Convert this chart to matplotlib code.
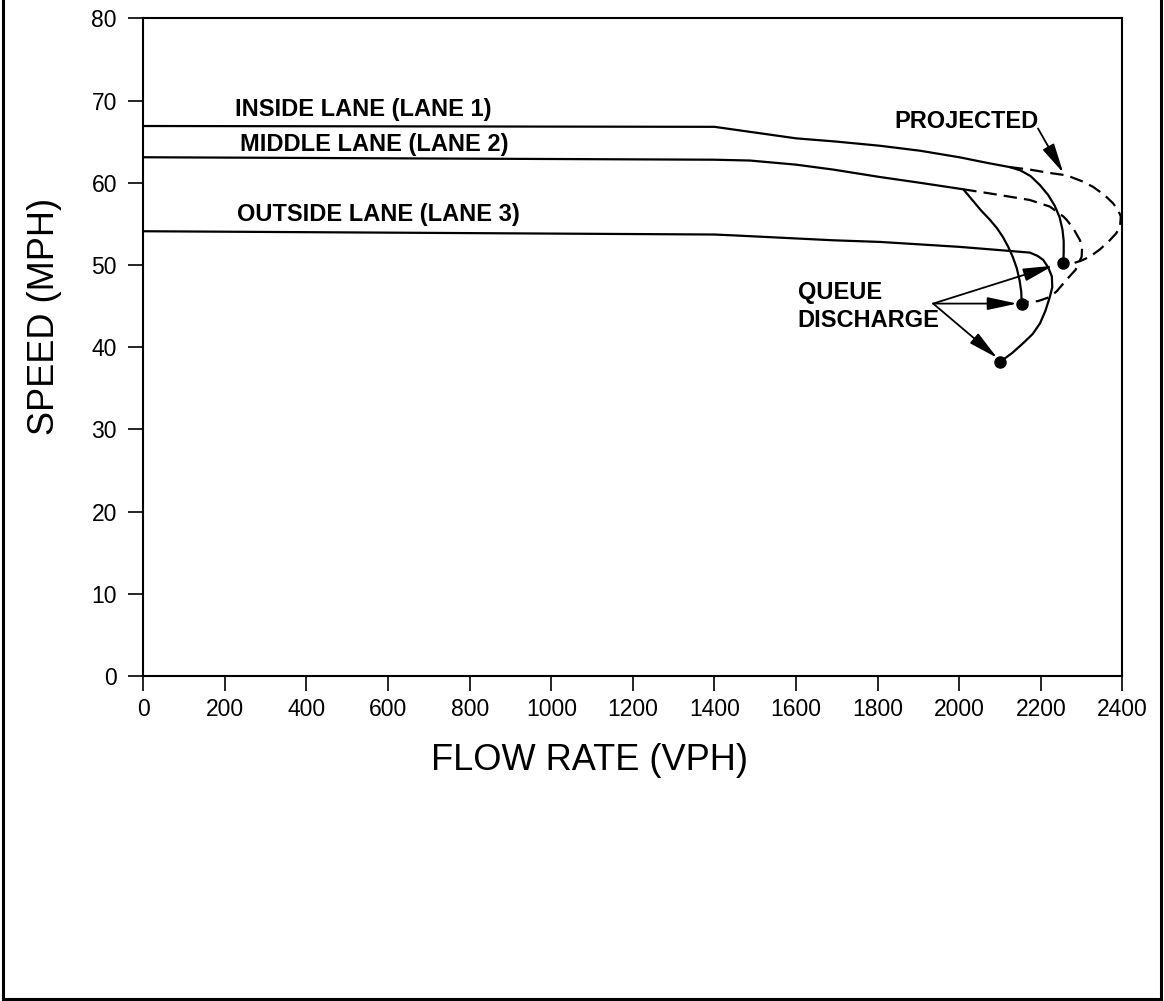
import matplotlib
matplotlib.use("Agg")
import matplotlib.pyplot as plt
from matplotlib.lines import Line2D

plt.rcParams['font.family'] = ['Liberation Sans', 'DejaVu Sans']

# flow rate (vph) / speed (mph)
inside_flow = [0, 1400, 1500, 1600, 1700, 1805, 1903, 2000, 2070, 2124, 2150, 2175, 2198, 2218, 2234, 2246, 2253, 2256, 2256, 2255]
inside_speed = [66.9, 66.8, 66.1, 65.4, 65.0, 64.5, 63.9, 63.1, 62.4, 61.9, 61.5, 60.8, 59.7, 58.5, 57.2, 55.8, 54.3, 52.9, 51.5, 50.2]

middle_flow = [0, 1400, 1487, 1600, 1691, 1805, 1903, 2010, 2032, 2054, 2075, 2092, 2107, 2120, 2131, 2141, 2148, 2152, 2153]
middle_speed = [63.1, 62.8, 62.7, 62.2, 61.6, 60.7, 60.0, 59.2, 57.9, 56.6, 55.5, 54.5, 53.4, 52.2, 51.0, 49.6, 48.1, 46.7, 45.3]

outside_flow = [0, 1400, 1445, 1691, 1805, 1903, 2000, 2100, 2173, 2192, 2206, 2218, 2227, 2228, 2222, 2211, 2198, 2180, 2157, 2130, 2100]
outside_speed = [54.1, 53.7, 53.6, 53.0, 52.8, 52.5, 52.2, 51.8, 51.5, 51.1, 50.6, 49.7, 48.6, 47.3, 46.1, 44.4, 42.9, 41.6, 40.5, 39.3, 38.2]

# projected (dashed) parts
inside_proj_flow = [2124, 2173, 2220, 2263, 2300, 2328, 2356, 2377, 2389, 2396, 2394, 2384, 2369, 2345, 2320, 2298, 2279, 2262]
inside_proj_speed = [61.9, 61.6, 61.2, 60.9, 60.2, 59.5, 58.5, 57.5, 56.7, 55.9, 54.6, 53.8, 53.0, 51.9, 51.0, 50.5, 50.2, 50.2]

middle_proj_flow = [2010, 2075, 2173, 2222, 2255, 2263, 2280, 2296, 2301, 2300, 2285, 2263, 2239, 2222, 2193, 2165]
middle_proj_speed = [59.2, 58.7, 57.9, 57.1, 55.9, 55.5, 54.4, 53.0, 52.0, 51.0, 49.4, 48.2, 46.8, 46.1, 45.6, 45.5]

# queue discharge points
qd_flow = [2255, 2153, 2100]
qd_speed = [50.2, 45.3, 38.2]

# arrows for QUEUE DISCHARGE note
qd_tail = (1936, 45.3)
qd_heads = [(2230, 49.9), (2142, 45.3), (2093, 38.7)]

fig = plt.figure(figsize=(11.64, 10.01), dpi=100)
ax = fig.add_axes([0.1231, 0.3247, 0.8412, 0.657])

lw = 1.6
ax.plot(inside_flow, inside_speed, color='k', lw=lw)
ax.plot(middle_flow, middle_speed, color='k', lw=lw)
ax.plot(outside_flow, outside_speed, color='k', lw=lw)
ax.plot(inside_proj_flow, inside_proj_speed, color='k', lw=lw, dashes=(6, 3.2))
ax.plot(middle_proj_flow, middle_proj_speed, color='k', lw=lw, dashes=(6, 3.2))
ax.plot(qd_flow, qd_speed, 'o', color='k', ms=8, zorder=5)

# labels on the lanes
lab_font = dict(fontsize=17, fontweight='bold', va='center', ha='left')
ax.text(225, 68.9, 'INSIDE LANE (LANE 1)', **lab_font)
ax.text(237, 64.6, 'MIDDLE LANE (LANE 2)', **lab_font)
ax.text(230, 56.1, 'OUTSIDE LANE (LANE 3)', **lab_font)

ax.text(1842, 67.4, 'PROJECTED', **lab_font)
ax.annotate('', xy=(2255, 61.2), xytext=(2193, 66.6),
            arrowprops=dict(arrowstyle='-|>,head_length=1.3,head_width=0.28', mutation_scale=14,
                            color='k', lw=1.3, shrinkA=0, shrinkB=0))

ax.text(1604, 46.6, 'QUEUE', **lab_font)
ax.text(1604, 43.3, 'DISCHARGE', **lab_font)
for h in qd_heads:
    ax.annotate('', xy=h, xytext=qd_tail,
                arrowprops=dict(arrowstyle='-|>,head_length=1.3,head_width=0.28', mutation_scale=14,
                                color='k', lw=1.3, shrinkA=0, shrinkB=0))

ax.set_xlim(0, 2400)
ax.set_ylim(0, 80)
ax.set_xticks(range(0, 2401, 200))
ax.set_yticks(range(0, 81, 10))
ax.tick_params(direction='out', length=11, width=1.2, labelsize=16.5)
ax.tick_params(axis='x', pad=5)
ax.tick_params(axis='y', pad=8)
for s in ax.spines.values():
    s.set_linewidth(1.5)

ax.set_xlabel('FLOW RATE (VPH)', fontsize=26, va='center')
ax.xaxis.set_label_coords(0.456, -0.128)
ax.set_ylabel('SPEED (MPH)', fontsize=26, va='center')
ax.yaxis.set_label_coords(-0.1004, 0.546)

# outer frame of the scanned page (no top edge)
fig.add_artist(Line2D([0.003, 0.003], [0.0015, 1.0], transform=fig.transFigure, color='k', lw=2.2))
fig.add_artist(Line2D([0.997, 0.997], [0.0015, 1.0], transform=fig.transFigure, color='k', lw=2.2))
fig.add_artist(Line2D([0.003, 0.997], [0.0015, 0.0015], transform=fig.transFigure, color='k', lw=2.2))

fig.savefig('out.png', dpi=100)
